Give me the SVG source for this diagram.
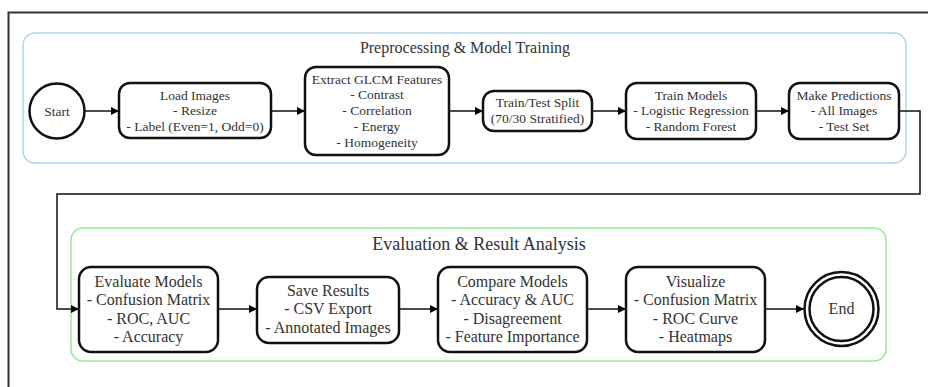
<svg xmlns="http://www.w3.org/2000/svg" width="928" height="387" viewBox="0 0 928 387">
<defs>
<marker id="ah" viewBox="0 0 10 10" refX="10" refY="5" markerWidth="10" markerHeight="8" markerUnits="userSpaceOnUse" orient="auto">
<path d="M0,0 L10,5 L0,10 z" fill="#000"/>
</marker>
<style>
.t{font-family:"Liberation Serif","DejaVu Serif",serif;fill:#333;text-anchor:middle}
.s{font-size:13.5px}
.b{font-size:16px}
.node{fill:#fff;stroke:#111;stroke-width:2.5}
.edge{fill:none;stroke:#111;stroke-width:1.5;marker-end:url(#ah)}
</style>
</defs>
<rect width="928" height="387" fill="#fff"/>
<rect x="8.5" y="12.5" width="940" height="400" fill="none" stroke="#333" stroke-width="2"/>
<g id="cluster-preprocessing">
<rect x="23" y="33" width="883" height="130" rx="12" fill="none" stroke="#add8e6" stroke-width="1.5"/>
<text class="t" x="465" y="52.5" font-size="16">Preprocessing &amp; Model Training</text>
</g>
<g id="cluster-evaluation">
<rect x="71" y="228" width="815" height="133" rx="12" fill="none" stroke="#90ee90" stroke-width="1.5"/>
<text class="t" x="479" y="249.5" font-size="18">Evaluation &amp; Result Analysis</text>
</g>
<g id="connectors">
<line class="edge" x1="85" y1="111" x2="119" y2="111"/>
<line class="edge" x1="271" y1="111" x2="305" y2="111"/>
<line class="edge" x1="449" y1="111" x2="483" y2="111"/>
<line class="edge" x1="592" y1="111" x2="626" y2="111"/>
<line class="edge" x1="756" y1="111" x2="789" y2="111"/>
<polyline class="edge" points="899,111 920,111 920,194 57,194 57,309 79,309"/>
<line class="edge" x1="218" y1="309" x2="257" y2="309"/>
<line class="edge" x1="399" y1="309" x2="438" y2="309"/>
<line class="edge" x1="587" y1="309" x2="626" y2="309"/>
<line class="edge" x1="765" y1="309" x2="804" y2="309"/>
</g>
<g id="start">
<circle class="node" cx="57" cy="111" r="27.5"/>
<text class="t s" x="57" y="115.5">Start</text>
</g>
<g id="load">
<rect class="node" x="119" y="83" width="152" height="55" rx="11"/>
<text class="t s" x="195" y="99.5">Load Images</text>
<text class="t s" x="195" y="115.3">- Resize</text>
<text class="t s" x="195" y="131">- Label (Even=1, Odd=0)</text>
</g>
<g id="glcm">
<rect class="node" x="305" y="67" width="144" height="88" rx="11"/>
<text class="t s" x="377" y="83.5">Extract GLCM Features</text>
<text class="t s" x="377" y="99.3">- Contrast</text>
<text class="t s" x="377" y="115.1">- Correlation</text>
<text class="t s" x="377" y="130.9">- Energy</text>
<text class="t s" x="377" y="146.7">- Homogeneity</text>
</g>
<g id="split">
<rect class="node" x="483" y="91" width="109" height="40" rx="11"/>
<text class="t s" x="537.5" y="107.3">Train/Test Split</text>
<text class="t s" x="537.5" y="122.8">(70/30 Stratified)</text>
</g>
<g id="train">
<rect class="node" x="626" y="83" width="130" height="56" rx="11"/>
<text class="t s" x="691" y="99.5">Train Models</text>
<text class="t s" x="691" y="115.3">- Logistic Regression</text>
<text class="t s" x="691" y="131">- Random Forest</text>
</g>
<g id="predict">
<rect class="node" x="789" y="83" width="110" height="56" rx="11"/>
<text class="t s" x="844" y="99.5">Make Predictions</text>
<text class="t s" x="844" y="115.3">- All Images</text>
<text class="t s" x="844" y="131">- Test Set</text>
</g>
<g id="evaluate">
<rect class="node" x="79" y="267" width="139" height="85" rx="12"/>
<text class="t b" x="148.5" y="286.7">Evaluate Models</text>
<text class="t b" x="148.5" y="305.1">- Confusion Matrix</text>
<text class="t b" x="148.5" y="323.5">- ROC, AUC</text>
<text class="t b" x="148.5" y="341.9">- Accuracy</text>
</g>
<g id="save">
<rect class="node" x="257" y="277" width="142" height="66" rx="12"/>
<text class="t b" x="328" y="295.5">Save Results</text>
<text class="t b" x="328" y="314">- CSV Export</text>
<text class="t b" x="328" y="332.5">- Annotated Images</text>
</g>
<g id="compare">
<rect class="node" x="438" y="267" width="149" height="85" rx="12"/>
<text class="t b" x="512.5" y="286.7">Compare Models</text>
<text class="t b" x="512.5" y="305.1">- Accuracy &amp; AUC</text>
<text class="t b" x="512.5" y="323.5">- Disagreement</text>
<text class="t b" x="512.5" y="341.9">- Feature Importance</text>
</g>
<g id="visualize">
<rect class="node" x="626" y="267" width="139" height="85" rx="12"/>
<text class="t b" x="695.5" y="286.7">Visualize</text>
<text class="t b" x="695.5" y="305.1">- Confusion Matrix</text>
<text class="t b" x="695.5" y="323.5">- ROC Curve</text>
<text class="t b" x="695.5" y="341.9">- Heatmaps</text>
</g>
<g id="end">
<circle class="node" cx="841.5" cy="309" r="37"/>
<circle cx="841.5" cy="309" r="32" fill="none" stroke="#111" stroke-width="2.5"/>
<text class="t b" x="841.5" y="314">End</text>
</g>
</svg>
